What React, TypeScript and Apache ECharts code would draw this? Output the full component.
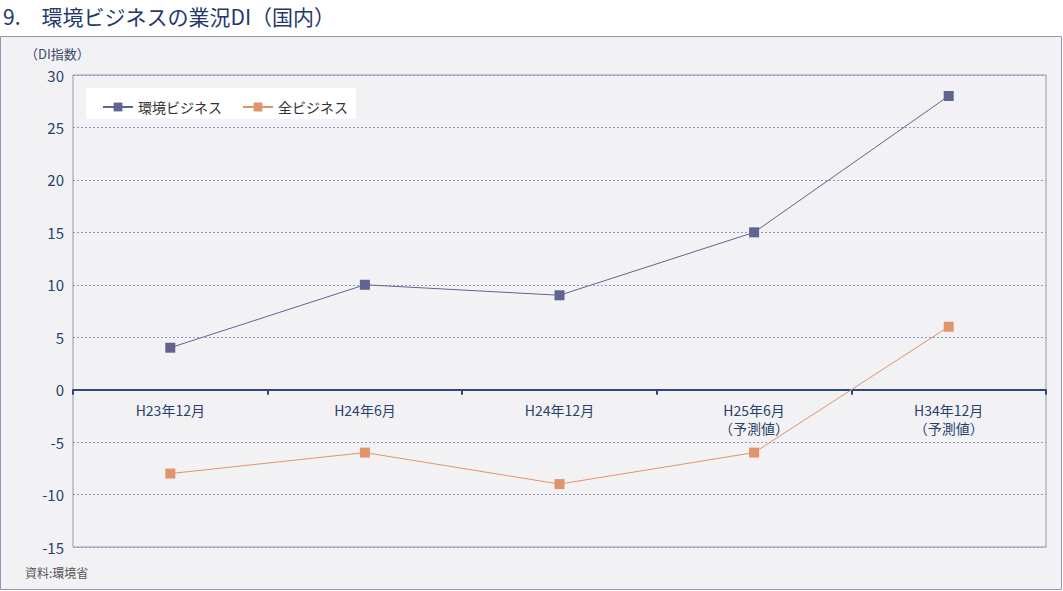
import React, { useEffect, useRef } from "react";
import * as echarts from "echarts";

const categories = ["H23年12月", "H24年6月", "H24年12月", "H25年6月\n（予測値）", "H34年12月\n（予測値）"];
const envBusiness = [4, 10, 9, 15, 28];
const allBusiness = [-8, -6, -9, -6, 6];
const seriesNames = ["環境ビジネス", "全ビジネス"];
const yMin = -15;
const yMax = 30;
const yInterval = 5;

const FONT = "'Noto Sans CJK JP', 'Noto Sans', sans-serif";

export default function App() {
  const ref = useRef<HTMLDivElement>(null);
  useEffect(() => {
    document.body.style.margin = "0";
    const chart = echarts.init(ref.current!, null, { renderer: "svg" });
    const gridTop = 75;
    const gridBottom = 44;
    const plotH = 591 - gridTop - gridBottom;
    const zeroOffset = (plotH * (0 - yMin)) / (yMax - yMin);
    chart.setOption({
      animation: false,
      backgroundColor: "#ffffff",
      textStyle: { fontFamily: FONT },
      graphic: [
        {
          type: "rect",
          shape: { x: 0.5, y: 36.5, width: 1061, height: 553 },
          style: { fill: "#f2f2f5", stroke: "#8e98b8", lineWidth: 1 },
          z: -10,
        },
        {
          type: "text",
          left: 3,
          top: 5,
          style: { text: "9.　環境ビジネスの業況DI（国内）", fill: "#23396a", font: `normal 21px ${FONT}` },
        },
        {
          type: "text",
          left: 25,
          top: 47,
          style: { text: "（DI指数）", fill: "#3a4a6a", font: `13px ${FONT}` },
        },
        {
          type: "text",
          left: 25,
          top: 566,
          style: { text: "資料:環境省", fill: "#555555", font: `12px ${FONT}` },
        },
        {
          type: "rect",
          shape: { x: 86, y: 88, width: 270, height: 31 },
          style: { fill: "#ffffff" },
          z: 5,
        },
      ],
      legend: {
        left: 97,
        top: 95,
        itemWidth: 30,
        itemHeight: 11,
        itemGap: 20,
        textStyle: { fontSize: 14, color: "#333333", fontFamily: FONT },
        data: seriesNames,
        z: 10,
      },
      grid: {
        left: 73,
        right: 17,
        top: gridTop,
        bottom: gridBottom,
        show: true,
        borderColor: "#8e98b8",
        borderWidth: 1,
        backgroundColor: "transparent",
      },
      xAxis: {
        type: "category",
        data: categories,
        boundaryGap: true,
        position: "bottom",
        offset: -zeroOffset,
        axisLine: { onZero: false, lineStyle: { color: "#2f4a7a", width: 2 } },
        axisTick: { show: true, alignWithLabel: false, length: 5, inside: false, lineStyle: { color: "#2f4a7a", width: 2 } },
        axisLabel: { color: "#2a3f6a", fontSize: 14, lineHeight: 18, margin: 11, fontFamily: FONT },
        splitLine: { show: false },
      },
      yAxis: {
        type: "value",
        min: yMin,
        max: yMax,
        interval: yInterval,
        axisLine: { show: false },
        axisTick: { show: false },
        axisLabel: { color: "#2a3f6a", fontSize: 15, margin: 9, fontFamily: FONT },
        splitLine: { show: true, lineStyle: { color: "#8e98c0", type: [2, 2], width: 1 } },
      },
      series: [
        {
          name: seriesNames[0],
          type: "line",
          data: envBusiness,
          symbol: "rect",
          symbolSize: 10,
          itemStyle: { color: "#616391" },
          lineStyle: { color: "#616391", width: 1 },
        },
        {
          name: seriesNames[1],
          type: "line",
          data: allBusiness,
          symbol: "rect",
          symbolSize: 10,
          itemStyle: { color: "#e0946a" },
          lineStyle: { color: "#e0946a", width: 1 },
        },
      ],
    });
    return () => chart.dispose();
  }, []);
  return <div ref={ref} style={{ width: 1063, height: 591 }} />;
}
